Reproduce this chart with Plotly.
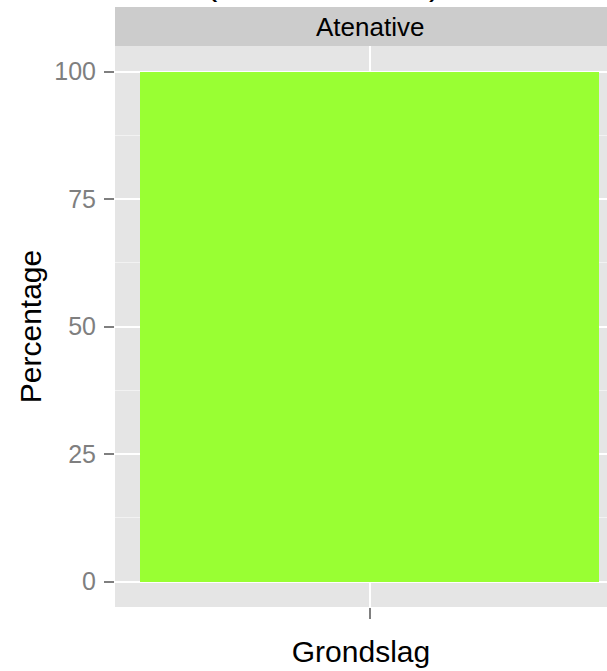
import plotly.graph_objects as go

# Data
panels = ["Atenative"]
categories = ["Grondslag"]
x_positions = [1]
percentages = [100]
y_ticks = [0, 25, 50, 75, 100]
y_minor = [12.5, 37.5, 62.5, 87.5]

FONT = "Liberation Sans, Arial, Helvetica, sans-serif"
W, H = 607, 671
L, R, T, B = 115, 0, 46, 63.5
ph = H - T - B

fig = go.Figure()
fig.add_trace(go.Bar(
    x=x_positions, y=percentages, width=0.9,
    marker=dict(color="#99FF33", line=dict(width=0)),
    showlegend=False, hoverinfo="y",
))

fig.update_layout(
    width=W, height=H,
    margin=dict(l=L, r=R, t=T, b=B, pad=0),
    paper_bgcolor="white",
    plot_bgcolor="#E5E5E5",
    font=dict(family=FONT, color="black"),
    xaxis=dict(
        range=[0.5, 1.4657],
        tickvals=x_positions, ticktext=[""],
        ticks="outside", ticklen=11, tickwidth=2, tickcolor="#7F7F7F",
        showgrid=True, gridcolor="white", gridwidth=2,
        zeroline=False, showline=False,
        title=dict(text=categories[0], font=dict(size=30, color="black"), standoff=20),
    ),
    yaxis=dict(
        range=[-5, 105],
        tickvals=y_ticks,
        ticks="outside", ticklen=10, tickwidth=2, tickcolor="#7F7F7F",
        tickfont=dict(size=25, color="#7F7F7F"),
        ticklabelstandoff=3,
        showgrid=True, gridcolor="white", gridwidth=2,
        minor=dict(tickvals=y_minor, showgrid=True, gridcolor="#F2F2F2", gridwidth=1, ticks=""),
        zeroline=False, showline=False,
        title=dict(text="Percentage", font=dict(size=30, color="black"), standoff=3),
    ),
    bargap=0,
)

# facet strip
strip_top = 1 + 39 / ph
fig.add_shape(type="rect", xref="paper", yref="paper", x0=0, x1=1, y0=1, y1=strip_top,
              fillcolor="#CCCCCC", line=dict(width=0), layer="below")
fig.add_annotation(x=x_positions[0], xref="x", y=(1 + strip_top) / 2, yref="paper",
                   text=panels[0], showarrow=False, font=dict(size=26, color="black"),
                   xanchor="center", yanchor="middle")

# clipped title (only bottoms of the parentheses visible)
for ch, px in [("(", 212), (")", 434)]:
    fig.add_annotation(x=(px - L) / (W - L), xref="paper", y=1 + 42 / ph, yref="paper",
                       text=ch, showarrow=False, font=dict(size=34, color="black"),
                       xanchor="center", yanchor="bottom")

fig.write_html("out.html", config={"displayModeBar": False},
               post_script="document.body.style.margin='0';")
